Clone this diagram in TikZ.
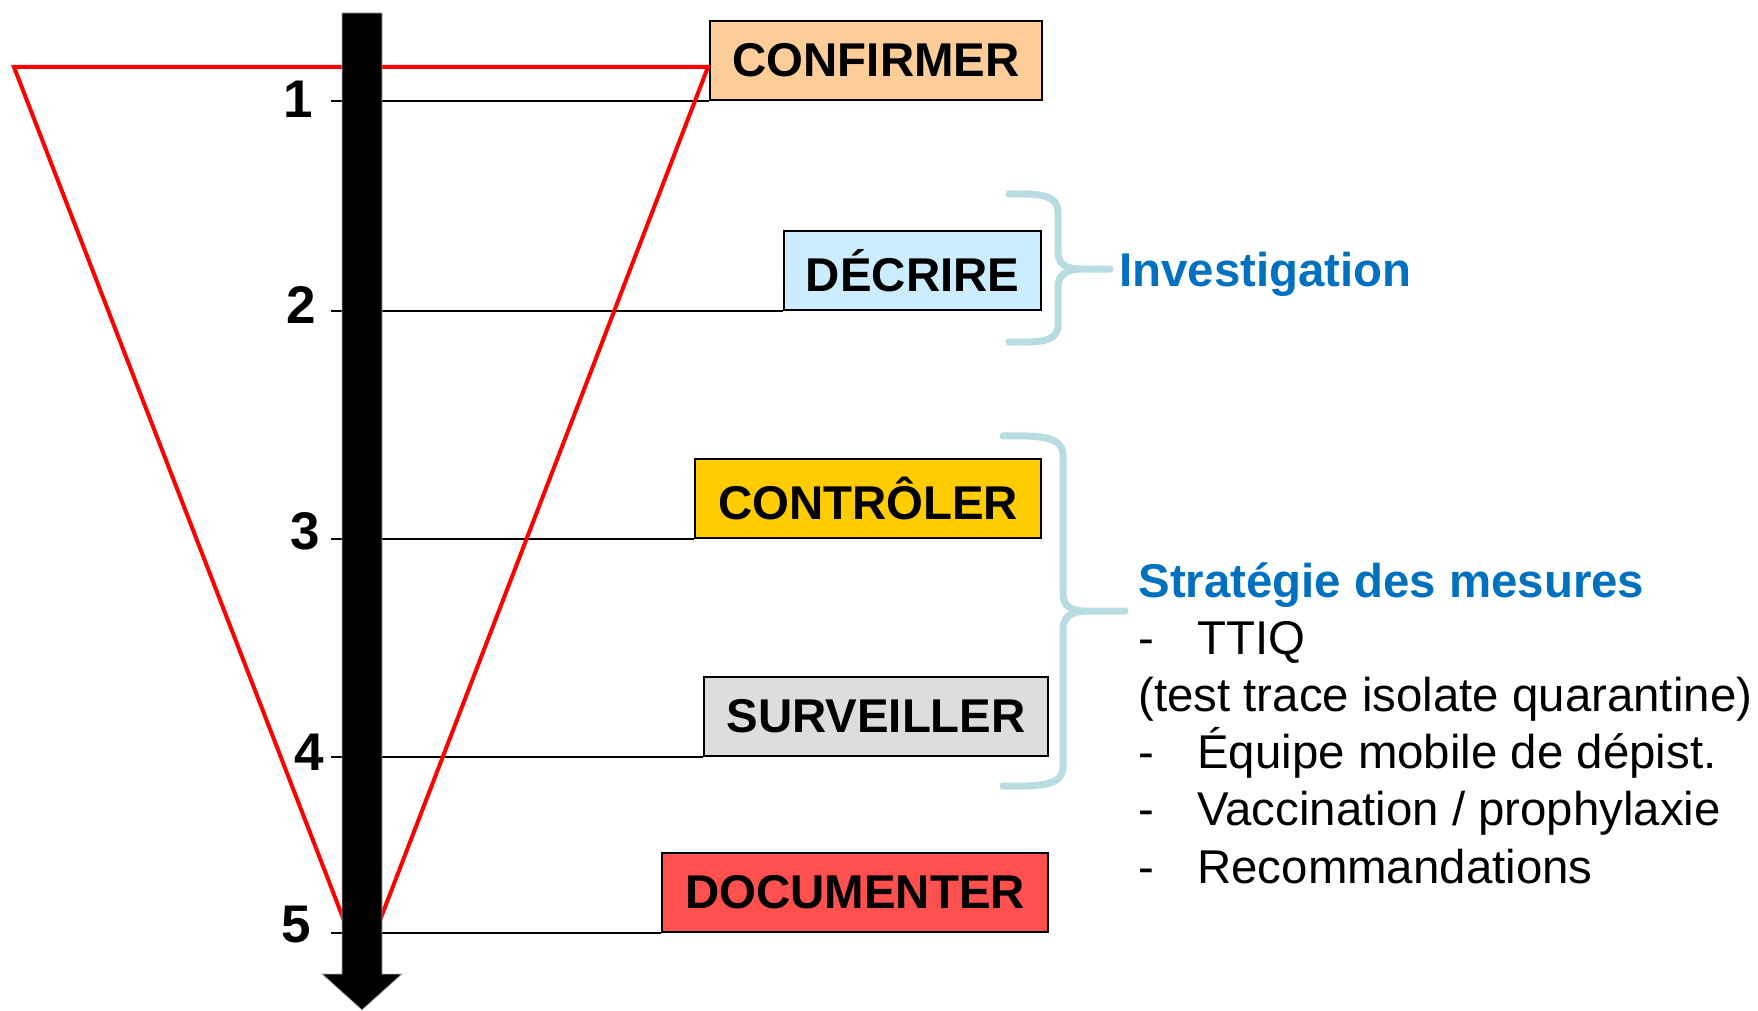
\documentclass[tikz,border=0pt]{standalone}
\usepackage{fontspec}
\setmainfont{Liberation Sans}
\usepackage{tikz}
\usetikzlibrary{positioning, calc}
\definecolor{confpeach}{RGB}{252, 204, 153}
\definecolor{descblue}{RGB}{204, 236, 255}
\definecolor{ctrlgold}{RGB}{255, 204, 0}
\definecolor{survgray}{RGB}{221, 221, 221}
\definecolor{docred}{RGB}{255, 80, 80}
\definecolor{phaseblue}{RGB}{0, 112, 192}
\definecolor{bracecol}{RGB}{183, 221, 226}
\tikzset{
    stepbox/.style={draw=black, line width=0.9pt, minimum height=39.5pt, inner sep=0pt, anchor=south east, font=\fontsize{23.7}{28}\selectfont\bfseries},
    stepnum/.style={font=\fontsize{26.5}{30}\selectfont\bfseries, anchor=base, inner sep=0pt},
    tickline/.style={line width=0.7pt},
    funnel/.style={draw=red, line width=2pt, line join=miter},
    curlybrace/.style={draw=bracecol, line width=3.5pt, line cap=round, line join=round},
    phase/.style={font=\fontsize{23.7}{28}\selectfont\bfseries, text=phaseblue, anchor=base west, inner sep=0pt},
}

\begin{document}
\begin{tikzpicture}[x=0.5pt, y=-0.5pt]
    \useasboundingbox (0,0) rectangle (1758,1011);

    % Steps
    \node[stepbox, fill=confpeach, minimum width=166pt] (confirmer) at (1043,101) {CONFIRMER};
    \node[stepbox, fill=descblue, minimum width=128.5pt] (decrire) at (1042,311) {DÉCRIRE};
    \node[stepbox, fill=ctrlgold, minimum width=173pt] (controler) at (1042,539) {CONTRÔLER};
    \node[stepbox, fill=survgray, minimum width=172pt] (surveiller) at (1049,757) {SURVEILLER};
    \node[stepbox, fill=docred, minimum width=193pt] (documenter) at (1049,933) {DOCUMENTER};

    % Numbers and ticks
    \node[stepnum] (n1) at (298,118) {1};
    \node[stepnum] (n2) at (301,323) {2};
    \node[stepnum] (n3) at (305,549) {3};
    \node[stepnum] (n4) at (309,770) {4};
    \node[stepnum] (n5) at (296,942) {5};
    \coordinate (t1) at (331,101);
    \coordinate (t2) at (331,311);
    \coordinate (t3) at (331,539);
    \coordinate (t4) at (331,757);
    \coordinate (t5) at (331,933);
    \draw[tickline] (t1) -- (confirmer.south west);
    \draw[tickline] (t2) -- (decrire.south west);
    \draw[tickline] (t3) -- (controler.south west);
    \draw[tickline] (t4) -- (surveiller.south west);
    \draw[tickline] (t5) -- (documenter.south west);

    % Funnel
    \draw[funnel] (14,67) -- (708,67) -- (362,967) -- cycle;

    % Time axis
    \filldraw[fill=black, draw=gray!60, line width=0.4pt]
        (342,13) -- (382,13) -- (382,974) -- (402,974) -- (362,1010)
        -- (322,974) -- (342,974) -- cycle;

    % Braces
    \coordinate (invtip) at (1110,269);
    \coordinate (strtip) at (1125,611);
    \draw[curlybrace] (1009,194) .. controls (1042,193) and (1058,196) .. (1058,212)
        -- (1058,252) .. controls (1058,264) and (1066,269) .. (1080,269) -- (invtip)
        -- (1080,269) .. controls (1066,270) and (1058,275) .. (1058,287)
        -- (1058,325) .. controls (1058,341) and (1042,343) .. (1009,342);
    \draw[curlybrace] (1003,436) .. controls (1045,435) and (1063,438) .. (1063,455)
        -- (1063,594) .. controls (1063,606) and (1071,611) .. (1085,611) -- (strtip)
        -- (1085,611) .. controls (1071,612) and (1063,617) .. (1063,629)
        -- (1063,767) .. controls (1063,784) and (1045,787) .. (1003,786);

    % Labels
    \node[phase] (invest) at (1119,286) {Investigation};
    \node[anchor=base west, inner sep=0pt, font=\fontsize{23.7}{28.6}\selectfont] (mesures) at (1138,597) {
        \begin{tabular}[t]{@{}l@{}}
        \textcolor{phaseblue}{\bfseries Stratégie des mesures} \\
        \makebox[29.5pt][l]{-}TTIQ \\
        (test trace isolate quarantine) \\
        \makebox[29.5pt][l]{-}\smash{Équipe mobile de dépist.} \\
        \makebox[29.5pt][l]{-}Vaccination / prophylaxie \\
        \makebox[29.5pt][l]{-}Recommandations
        \end{tabular}
    };
\end{tikzpicture}
\end{document}
